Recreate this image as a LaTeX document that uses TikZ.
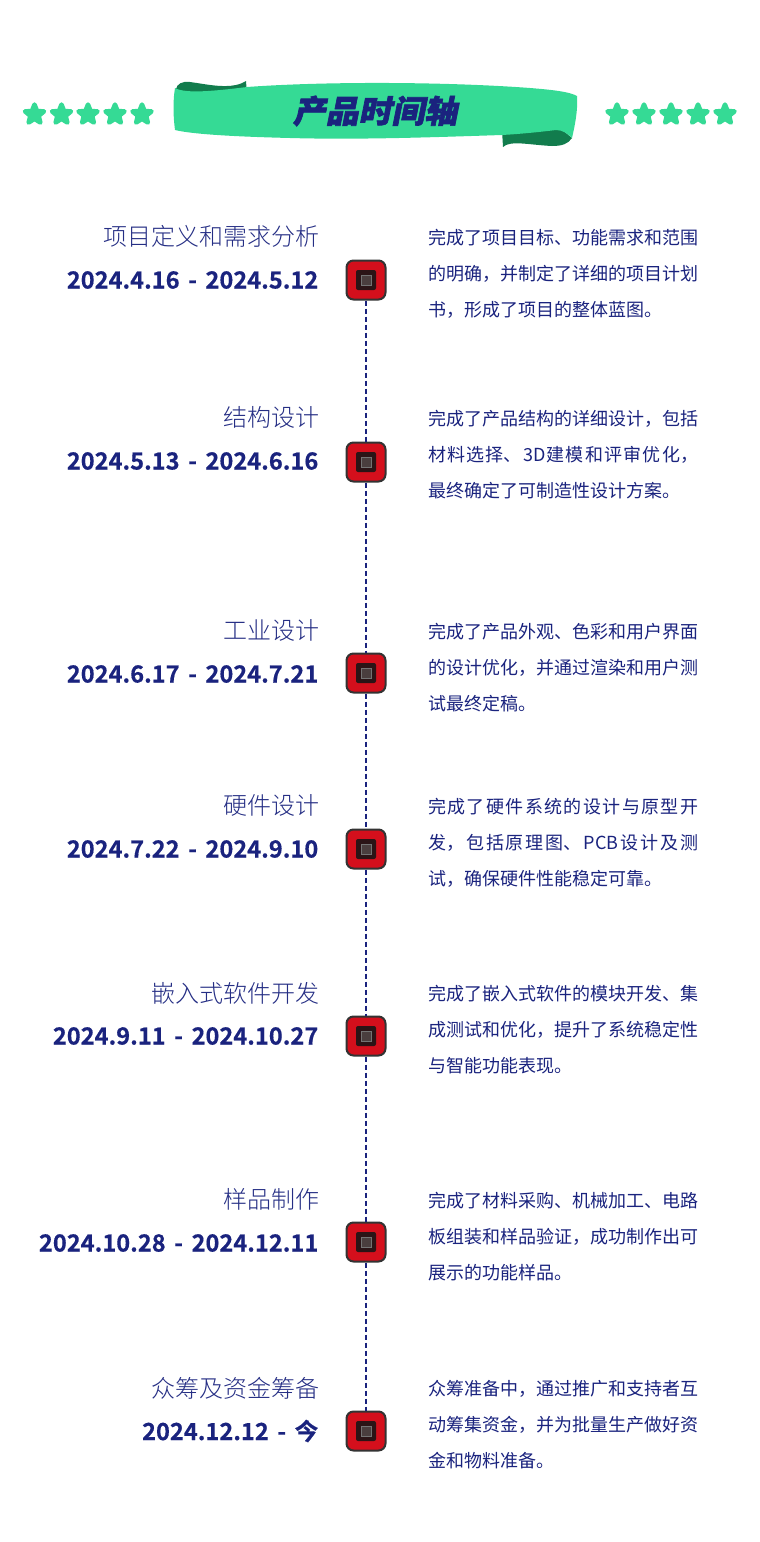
\documentclass[tikz,border=0pt]{standalone}
\usepackage{fontspec}
\setmainfont{Noto Sans CJK SC}
\newfontfamily\lightfont{Noto Sans CJK SC Light}
\newfontfamily\boldfont[WordSpace=1.6,FakeBold=0.4]{Noto Sans CJK SC Bold}
\newfontfamily\bannerfont[FakeSlant=0.2,FakeBold=2,FakeStretch=1.04]{Noto Sans CJK SC Black}
\usetikzlibrary{shapes, shapes.geometric, positioning}
\definecolor{navy}{HTML}{1A237E}
\definecolor{ribbon}{HTML}{35DA95}
\definecolor{ribbondark}{HTML}{127C4D}
\definecolor{markred}{HTML}{D40F1C}
\definecolor{markdark}{HTML}{2B1416}
\definecolor{markgrey}{HTML}{4A3E3E}
\XeTeXlinebreaklocale "zh"
\XeTeXlinebreakskip=0pt plus 1pt
\tikzset{
  flower/.style={star, star points=5, star point ratio=2.3, minimum size=20pt, inner sep=0pt, fill=ribbon, draw=ribbon, line width=4.5pt, line join=round},
  markbox/.style={rectangle, rounded corners=7pt, minimum size=39pt, inner sep=0pt, draw=black!80, line width=2pt, fill=markred},
  markcore/.style={rectangle, rounded corners=2pt, minimum size=20pt, inner sep=0pt, fill=markdark},
  markpupil/.style={rectangle, minimum size=10pt, inner sep=0pt, draw=black!55, line width=1pt, fill=markgrey},
  headtext/.style={anchor=east, inner sep=0pt, text=navy!95, font=\lightfont\fontsize{24pt}{28pt}\selectfont},
  datetext/.style={anchor=east, inner sep=0pt, text=navy, font=\boldfont\fontsize{23.6pt}{28pt}\selectfont},
  bodytext/.style={anchor=west, inner sep=0pt, text=navy, text width=270pt, align=justify, font=\fontsize{18pt}{36pt}\selectfont},
  spine/.style={draw=navy, line width=2pt, dash pattern=on 5pt off 3pt}
}
\begin{document}
\begin{tikzpicture}[x=1pt, y=-1pt]
  \useasboundingbox (0,0) rectangle (760,1542);
  \fill[ribbondark] (176,89) .. controls (177,84) and (182,81) .. (190,82) .. controls (205,84) and (222,88) .. (236,85) .. controls (241,84) and (244,82) .. (246,81) -- (247,95) -- (176,95) -- cycle;
  \fill[ribbondark] (502,130) -- (503,147) .. controls (510,140) and (530,145) .. (552,146) .. controls (562,146) and (568,144) .. (572,138) -- (560,128) -- cycle;
  \fill[ribbon] (175,88) .. controls (185,94) and (215,91) .. (247,87) .. controls (330,81) and (450,82) .. (530,88) .. controls (555,90) and (570,92) .. (577,96) .. controls (578,110) and (575,125) .. (572,138) .. controls (568,134) and (563,130) .. (556,130) .. controls (540,132) and (520,134) .. (502,135) .. controls (440,137) and (360,140) .. (290,138) .. controls (250,137) and (195,135) .. (175,130) .. controls (173,115) and (173,100) .. (175,88) -- cycle;
  \node[inner sep=0pt, text=navy, font=\bannerfont\fontsize{31.6pt}{34pt}\selectfont] (banner) at (375,111) {产品时间轴};
  \foreach \n/\xa in {1/34.5,2/61.5,3/88,4/115,5/142}
    \node[flower] (leftstar\n) at (\xa,114.5) {};
  \foreach \n/\xa in {1/617,2/644,3/671,4/698,5/725}
    \node[flower] (rightstar\n) at (\xa,114.5) {};
  \foreach \n/\ya/\yb/\yc/\yd/\head/\period/\body in {
    1/236/280/280/273.5/项目定义和需求分析/2024.4.16 - 2024.5.12/{完成了项目目标、功能需求和范围的明确，并制定了详细的项目计划书，形成了项目的整体蓝图。},
    2/417/461/462/454.5/结构设计/2024.5.13 - 2024.6.16/{完成了产品结构的详细设计，包括材料选择、3D建模和评审优化，最终确定了可制造性设计方案。},
    3/630/674/673/667.5/工业设计/2024.6.17 - 2024.7.21/{完成了产品外观、色彩和用户界面的设计优化，并通过渲染和用户测试最终定稿。},
    4/805/849/849/842.5/硬件设计/2024.7.22 - 2024.9.10/{完成了硬件系统的设计与原型开发，包括原理图、PCB设计及测试，确保硬件性能稳定可靠。},
    5/993/1036/1036/1029.5/嵌入式软件开发/2024.9.11 - 2024.10.27/{完成了嵌入式软件的模块开发、集成测试和优化，提升了系统稳定性与智能功能表现。},
    6/1199/1243/1242/1236.5/样品制作/2024.10.28 - 2024.12.11/{完成了材料采购、机械加工、电路板组装和样品验证，成功制作出可展示的功能样品。},
    7/1388/1431/1431/1424.5/众筹及资金筹备/2024.12.12 - 今/{众筹准备中，通过推广和支持者互动筹集资金，并为批量生产做好资金和物料准备。}} {
    \node[headtext] (head\n) at (319.5,\ya) {\head};
    \node[datetext] (period\n) at (318.5,\yb) {\period};
    \node[markbox] (mark\n) at (366,\yc) {};
    \node[markcore] (core\n) at (mark\n) {};
    \node[markpupil] (pupil\n) at (core\n) {};
    \node[bodytext] (body\n) at (428,\yd) {\body};
  }
  \foreach \a/\b in {1/2,2/3,3/4,4/5,5/6,6/7}
    \draw[spine] (mark\a) -- (mark\b);
\end{tikzpicture}
\end{document}
